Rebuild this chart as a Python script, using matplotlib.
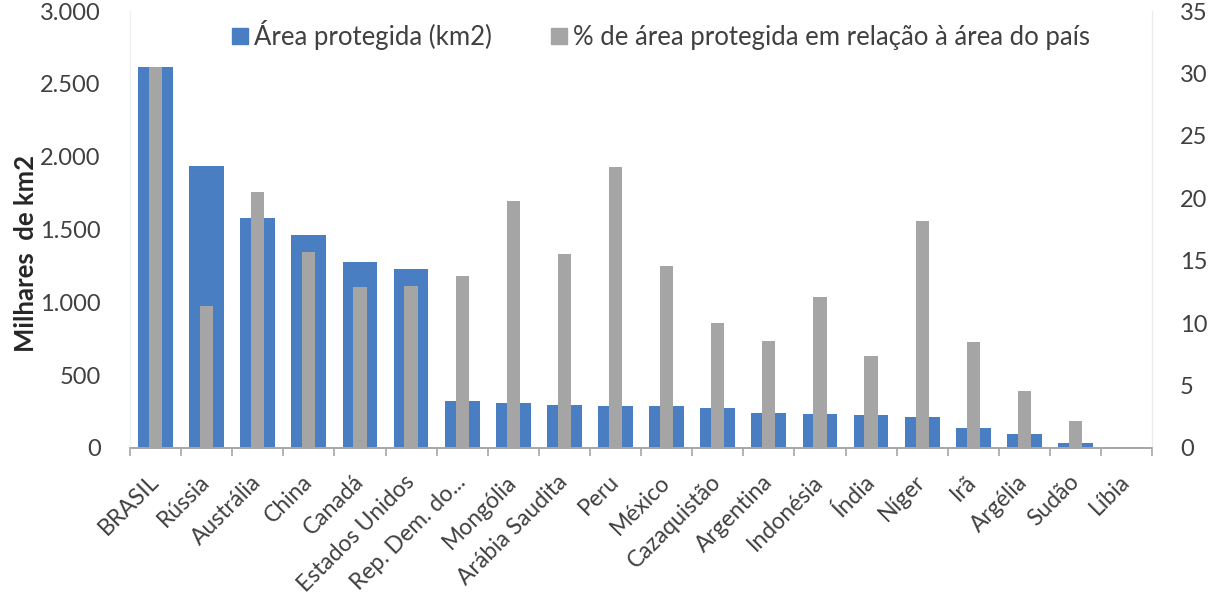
import numpy as np
import matplotlib
matplotlib.use('Agg')
import matplotlib.pyplot as plt
from matplotlib.ticker import FuncFormatter
from matplotlib.patches import Patch

paises = ['BRASIL', 'Rússia', 'Austrália', 'China', 'Canadá', 'Estados Unidos',
          'Rep. Dem. do...', 'Mongólia', 'Arábia Saudita', 'Peru', 'México',
          'Cazaquistão', 'Argentina', 'Indonésia', 'Índia', 'Níger', 'Irã',
          'Argélia', 'Sudão', 'Líbia']
area_km2 = [2615, 1938, 1578, 1459, 1274, 1230, 325, 308, 295, 290, 288,
            274, 242, 233, 228, 212, 137, 96, 34, 7]
pct_area = [30.5, 11.4, 20.5, 15.7, 12.9, 13.0, 13.8, 19.8, 15.5, 22.5, 14.6,
            10.0, 8.6, 12.1, 7.4, 18.2, 8.5, 4.6, 2.2, 0.1]

azul = '#4a7ec3'
cinza = '#a5a5a5'
texto = '#404040'
plt.rcParams['font.family'] = ['Lato', 'DejaVu Sans']

fig = plt.figure(figsize=(12.09, 6.12), dpi=100)
ax = fig.add_axes([0.1075, 0.268, 0.8455, 0.714])
ax2 = ax.twinx()

x = np.arange(len(paises))
ax.bar(x, area_km2, width=0.68, color=azul)
ax2.bar(x, pct_area, width=0.26, color=cinza)

ax.set_xlim(-0.5, len(paises) - 0.5)
ax.set_ylim(0, 3000)
ax2.set_ylim(0, 35)
ax.set_yticks(np.arange(0, 3001, 500))
ax2.set_yticks(np.arange(0, 36, 5))
ax.yaxis.set_major_formatter(FuncFormatter(lambda v, p: f'{int(v):,}'.replace(',', '.')))

ax.set_xticks(x)
ax.set_xticklabels(paises, rotation=45, ha='right', va='center',
                   rotation_mode='anchor', fontsize=16.5, color=texto)
ax.set_xticks(np.arange(-0.5, len(paises)), minor=True)
ax.tick_params(axis='x', which='major', length=0, pad=22)
ax.tick_params(axis='x', which='minor', length=6, color='#a6a6a6', width=1.2)
ax.tick_params(axis='y', length=0, pad=21, labelsize=17, labelcolor=texto)
ax2.tick_params(axis='y', length=0, pad=20, labelsize=17, labelcolor=texto)

for a in (ax, ax2):
    a.spines['top'].set_visible(False)
    a.spines['left'].set_color('#f0f0f0')
    a.spines['right'].set_color('#ececec')
    a.spines['bottom'].set_color('#a6a6a6')
    a.spines['bottom'].set_linewidth(1.2)

ax.set_ylabel('Milhares  de km2', fontsize=18.5, fontweight='bold', color='#262626')
ax.yaxis.set_label_coords(-0.09, 0.445)

handles = [Patch(color=azul, label='Área protegida (km2)'),
           Patch(color=cinza, label='% de área protegida em relação à área do país')]
fig.legend(handles=handles, loc='center', bbox_to_anchor=(0.547, 0.943), ncol=2,
           frameon=False, fontsize=18.5, handlelength=0.6, handleheight=0.6,
           handletextpad=0.25, columnspacing=2.3, labelcolor=texto)

fig.savefig('out.png', dpi=100)
